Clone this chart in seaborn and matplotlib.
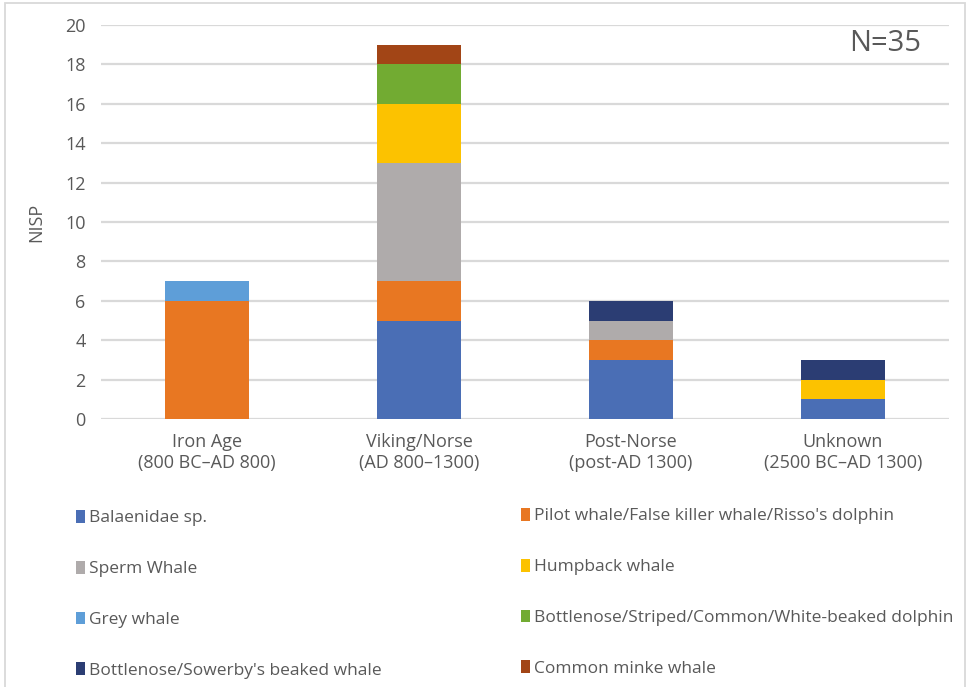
import matplotlib
matplotlib.use("Agg")
import matplotlib.pyplot as plt
import matplotlib.patches as mpatches
import seaborn as sns
import numpy as np
import pandas as pd

categories = ["Iron Age\n(800 BC–AD 800)", "Viking/Norse\n(AD 800–1300)",
              "Post-Norse\n(post-AD 1300)", "Unknown\n(2500 BC–AD 1300)"]
species = ["Balaenidae sp.", "Pilot whale/False killer whale/Risso's dolphin",
           "Sperm Whale", "Humpback whale", "Grey whale",
           "Bottlenose/Striped/Common/White-beaked dolphin",
           "Bottlenose/Sowerby's beaked whale", "Common minke whale"]
balaenidae = [0, 5, 3, 1]
pilot = [6, 2, 1, 0]
sperm = [0, 6, 1, 0]
humpback = [0, 3, 0, 1]
grey = [1, 0, 0, 0]
dolphin = [0, 2, 0, 0]
beaked = [0, 0, 1, 1]
minke = [0, 1, 0, 0]
series = [balaenidae, pilot, sperm, humpback, grey, dolphin, beaked, minke]
colors = ["#4A6EB5", "#E87722", "#AFABAB", "#FCC200", "#5E9ED8",
          "#72AB32", "#2B3D73", "#A24516"]

sns.set_style("white")
plt.rcParams['font.family'] = ['Open Sans', 'DejaVu Sans']
text_color = "#595959"

fig = plt.figure(figsize=(9.73, 6.87), dpi=100)
ax = fig.add_axes([101/973, 1 - 419/687, 848/973, 394/687])

cum = np.cumsum(np.array(series, dtype=float), axis=0)
for i in reversed(range(len(series))):
    df = pd.DataFrame({"period": categories, "value": cum[i]})
    sns.barplot(data=df, x="period", y="value", color=colors[i], width=0.4,
                saturation=1, linewidth=0, ax=ax, zorder=3)

ax.set_xlim(-0.5, 3.5)
ax.set_ylim(0, 20)
ax.set_yticks(range(0, 21, 2))
ax.yaxis.grid(True, color="#D9D9D9", linewidth=1.6, zorder=0)
ax.set_axisbelow(True)
for s in ax.spines.values():
    s.set_visible(False)
ax.tick_params(axis="both", length=0, labelsize=13, labelcolor=text_color)
ax.tick_params(axis="y", pad=11)
ax.tick_params(axis="x", pad=10)
ax.set_xlabel("")
ax.set_ylabel("NISP", fontsize=13, color=text_color, labelpad=14)
ax.text(0.925, 0.952, "N=35", transform=ax.transAxes, fontsize=21,
        color=text_color, ha="center", va="center")

# legends: two columns
handles = [mpatches.Patch(facecolor=c, edgecolor="none") for c in colors]
leg_kw = dict(frameon=False, fontsize=12.5, labelcolor=text_color,
              handlelength=0.5, handleheight=0.75, handletextpad=0.25,
              labelspacing=1.98, borderpad=0, borderaxespad=0)
leg1 = fig.legend(handles[0::2], species[0::2], loc="upper left",
                  bbox_to_anchor=(76/973, 1 - 510/687), **leg_kw)
leg2 = fig.legend(handles[1::2], species[1::2], loc="upper left",
                  bbox_to_anchor=(521/973, 1 - 508/687), **leg_kw)

# outer border
fig.patches.append(mpatches.Rectangle((5/973, -0.01), 960/973, 1 - 3/687 + 0.01,
                                      transform=fig.transFigure, fill=False,
                                      edgecolor="#D9D9D9", linewidth=1.3))

fig.savefig("out.png", dpi=100)
